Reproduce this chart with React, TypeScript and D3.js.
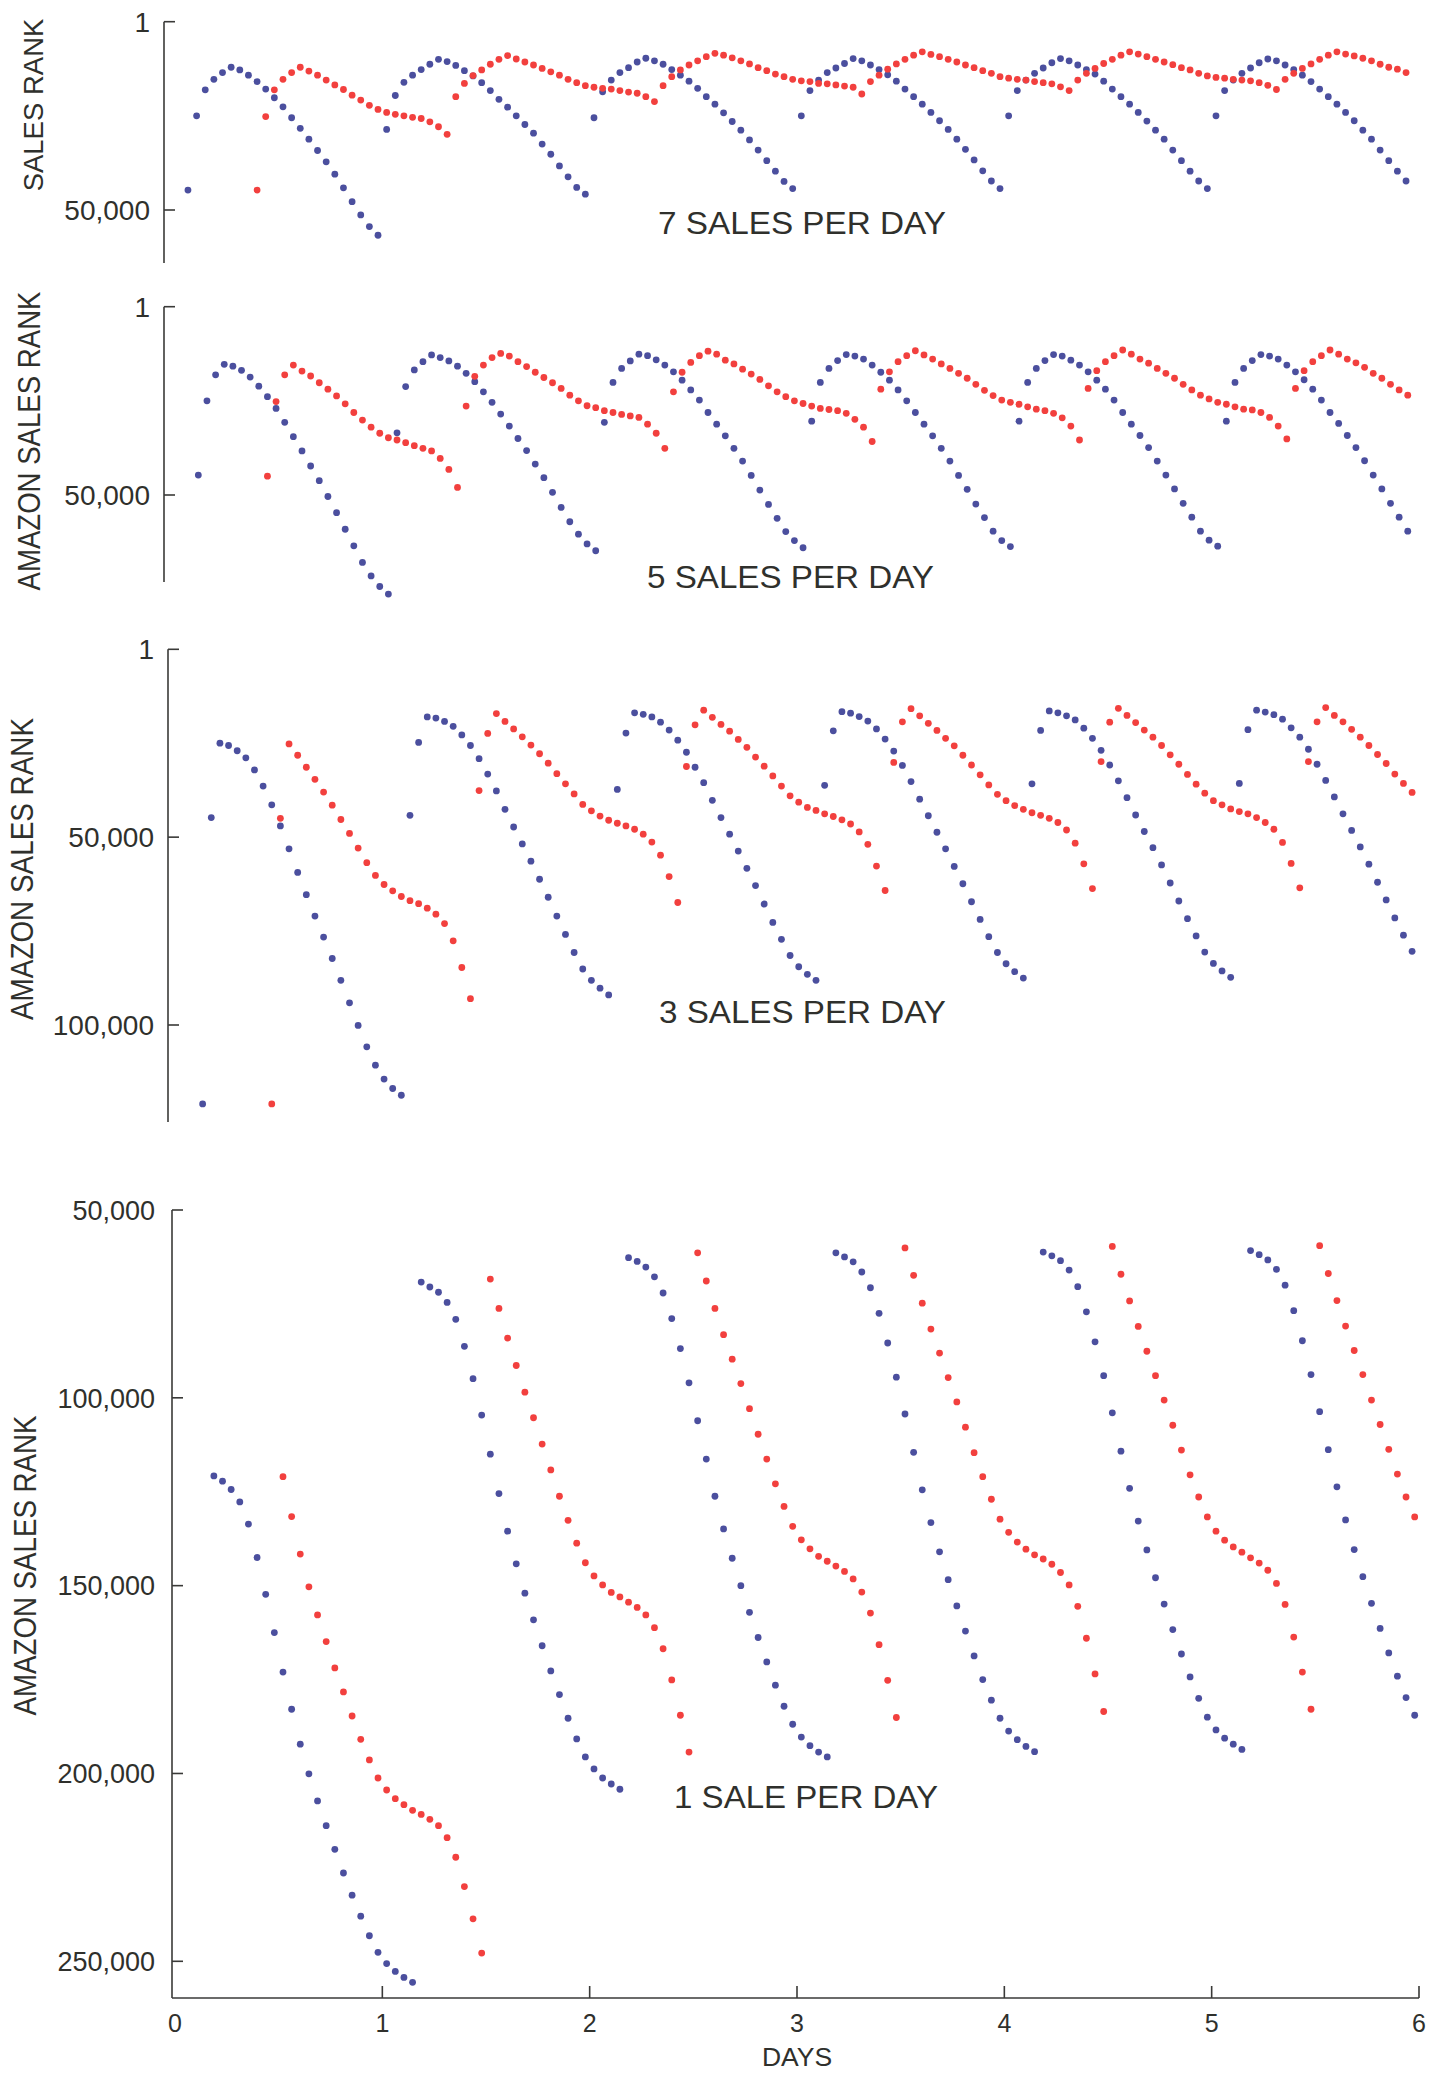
import React from "react";
import * as d3 from "d3";

// ---------- DATA ----------
const dayTicks = [0, 1, 2, 3, 4, 5, 6];
const panelTitles = ["7 SALES PER DAY", "5 SALES PER DAY", "3 SALES PER DAY", "1 SALE PER DAY"];
const panelAxisLabels = ["SALES RANK", "AMAZON SALES RANK", "AMAZON SALES RANK", "AMAZON SALES RANK"];
const rankTicks7 = [1, 50000];
const rankTicks5 = [1, 50000];
const rankTicks3 = [1, 50000, 100000];
const rankTicks1 = [50000, 100000, 150000, 200000, 250000];

// first hour of each hourly series (blue = first book, red = second book)
const blueStartHour = [1.5, 2.7, 3.2, 4.5];
const redStartHour = [9.5, 10.7, 11.2, 12.5];

// hourly sales rank, in thousands
const blue7 = [
  44.7, 25.0, 18.1, 15.3, 13.5, 12.1, 12.8, 14.2, 15.9, 17.9, 20.2, 22.6, 25.5, 28.3, 31.2, 34.2, 37.2, 40.5, 44.1, 47.8, 51.3, 54.4, 56.7,
  28.6, 19.6, 16.1, 14.2, 12.7, 11.3, 10.0, 10.6, 11.6, 13.0, 14.4, 16.2, 18.3, 20.6, 22.7, 25.0, 27.3, 29.6, 32.5, 35.2, 38.3, 41.2, 44.0, 45.8,
  25.5, 18.6, 15.5, 13.5, 12.2, 10.7, 9.7, 10.4, 11.3, 12.7, 14.2, 15.8, 17.7, 19.9, 21.9, 24.2, 26.5, 28.8, 31.4, 34.1, 36.9, 39.7, 42.4, 44.3,
  25.0, 18.3, 15.5, 13.5, 12.3, 11.1, 9.8, 10.4, 11.5, 12.7, 14.1, 15.8, 17.9, 19.9, 21.9, 24.1, 26.3, 28.6, 31.2, 33.9, 36.7, 39.6, 42.3, 44.3,
  25.0, 18.3, 15.5, 13.7, 12.3, 10.9, 9.8, 10.4, 11.5, 12.7, 13.9, 15.8, 17.9, 19.9, 21.9, 24.1, 26.4, 28.8, 31.2, 34.1, 36.9, 39.7, 42.3, 44.3,
  25.0, 18.3, 15.5, 13.7, 12.3, 10.9, 9.9, 10.4, 11.5, 12.7, 14.2, 15.9, 17.9, 19.9, 21.9, 24.1, 26.3, 28.8, 31.2, 34.1, 36.9, 39.7, 42.3,
];
const red7 = [
  44.7, 25.2, 18.1, 15.3, 13.5, 12.1, 13.1, 14.2, 15.5, 16.8, 18.0, 19.5, 20.8, 22.2, 23.3, 24.1, 24.6, 25.0, 25.4, 25.7, 26.6, 27.9, 29.9,
  19.9, 16.4, 14.3, 12.8, 11.3, 10.0, 9.0, 9.9, 10.7, 11.5, 12.4, 13.3, 14.2, 15.3, 16.2, 17.0, 17.4, 17.7, 17.9, 18.3, 18.7, 19.0, 19.9, 21.2,
  17.0, 14.6, 12.8, 11.5, 10.4, 9.3, 8.4, 8.9, 9.6, 10.4, 11.2, 12.2, 13.0, 13.9, 14.6, 15.3, 15.7, 15.9, 16.4, 16.5, 16.8, 17.1, 17.4, 19.2,
  15.9, 14.2, 12.6, 11.2, 10.0, 8.9, 8.0, 8.7, 9.3, 10.0, 10.7, 11.5, 12.2, 13.0, 13.7, 14.6, 15.0, 15.3, 15.5, 15.9, 16.2, 16.5, 17.3, 18.3,
  15.5, 13.7, 12.4, 11.1, 10.0, 8.9, 8.0, 8.6, 9.3, 10.0, 10.7, 11.4, 12.2, 12.8, 13.7, 14.4, 14.8, 15.0, 15.3, 15.5, 15.7, 16.2, 16.9, 18.0,
  15.3, 13.7, 12.4, 11.2, 10.0, 8.9, 8.0, 8.6, 9.1, 9.7, 10.4, 11.3, 12.1, 12.6, 13.5,
];
const blue5 = [
  44.7, 25.0, 18.1, 15.3, 15.8, 16.9, 18.7, 21.1, 23.9, 27.0, 30.7, 34.5, 38.3, 42.3, 46.2, 50.4, 54.7, 59.1, 63.5, 67.9, 71.5, 74.3, 76.3,
  33.5, 21.2, 16.8, 14.6, 12.8, 13.5, 14.4, 15.8, 17.7, 19.9, 22.6, 25.4, 28.5, 31.7, 35.0, 38.2, 41.8, 45.4, 49.3, 53.3, 57.1, 60.4, 63.0, 64.8,
  30.7, 20.1, 16.4, 14.4, 12.6, 13.0, 14.1, 15.5, 17.3, 19.5, 22.1, 24.8, 28.1, 31.2, 34.3, 37.6, 41.0, 44.8, 48.7, 52.5, 56.2, 59.7, 62.1, 64.0,
  30.4, 20.1, 16.4, 14.3, 12.7, 13.1, 13.9, 15.5, 17.4, 19.5, 22.1, 25.0, 28.1, 31.2, 34.3, 37.6, 41.0, 44.8, 48.5, 52.4, 56.0, 59.6, 62.1, 63.7,
  30.4, 20.1, 16.4, 14.3, 12.7, 13.1, 14.2, 15.5, 17.3, 19.5, 21.9, 24.8, 28.1, 31.2, 34.2, 37.4, 41.0, 44.7, 48.4, 52.2, 55.9, 59.6, 62.0, 63.6,
  30.4, 20.1, 16.4, 14.3, 12.7, 13.1, 13.9, 15.5, 17.3, 19.4, 21.9, 24.8, 28.1, 31.0, 34.2, 37.4, 40.9, 44.7, 48.4, 52.2, 55.9, 59.6,
];
const red5 = [
  45.0, 25.2, 18.1, 15.5, 17.1, 18.4, 20.2, 21.9, 23.7, 25.8, 28.1, 30.1, 32.0, 33.6, 34.8, 35.4, 36.1, 36.9, 37.6, 38.3, 40.3, 43.2, 48.0,
  26.4, 18.5, 15.5, 13.5, 12.4, 13.1, 14.6, 15.9, 17.4, 18.8, 20.2, 21.7, 23.5, 25.0, 26.3, 26.8, 27.6, 28.1, 28.6, 29.0, 29.4, 31.2, 33.6, 37.6,
  22.6, 17.4, 14.8, 13.0, 11.8, 12.6, 14.2, 15.2, 16.6, 17.9, 19.3, 21.0, 22.6, 23.9, 25.0, 25.7, 26.4, 27.0, 27.3, 27.6, 28.3, 29.9, 32.0, 35.8,
  21.9, 17.3, 14.6, 13.0, 11.7, 12.8, 13.9, 15.2, 16.4, 17.7, 19.0, 20.6, 22.2, 23.6, 24.8, 25.4, 25.9, 26.6, 27.2, 27.6, 28.3, 29.5, 31.7, 35.4,
  21.7, 17.0, 14.6, 13.0, 11.5, 12.6, 13.9, 15.0, 16.4, 17.7, 19.0, 20.6, 22.1, 23.5, 24.5, 25.4, 25.9, 26.6, 27.2, 27.4, 28.1, 29.4, 31.7, 35.1,
  21.7, 17.0, 14.6, 13.0, 11.5, 12.6, 13.9, 14.9, 16.1, 17.7, 19.0, 20.6, 22.1, 23.5,
];
const blue3 = [
  121.0, 44.8, 25.0, 25.6, 27.0, 28.9, 32.1, 36.4, 41.4, 47.0, 53.1, 59.4, 65.3, 71.0, 76.6, 82.3, 88.1, 94.1, 100.1, 105.8, 110.7, 114.4, 116.9, 118.7,
  44.2, 24.8, 18.0, 18.3, 19.2, 20.5, 22.8, 25.6, 29.1, 33.2, 37.7, 42.6, 47.3, 51.8, 56.4, 61.2, 66.0, 71.0, 75.9, 80.7, 85.1, 88.1, 90.2, 92.0,
  37.3, 22.3, 16.9, 17.3, 18.0, 19.4, 21.5, 24.2, 27.4, 31.4, 35.5, 40.2, 44.8, 49.2, 53.7, 58.3, 62.9, 67.8, 72.7, 77.2, 81.5, 84.5, 86.5, 88.1,
  36.2, 21.7, 16.6, 17.0, 17.9, 19.1, 21.2, 23.9, 27.1, 30.9, 35.2, 39.9, 44.3, 48.7, 53.1, 57.8, 62.4, 67.2, 71.9, 76.5, 80.7, 83.7, 85.8, 87.5,
  35.8, 21.6, 16.4, 16.9, 17.7, 18.8, 21.0, 23.7, 26.9, 30.8, 35.0, 39.5, 44.1, 48.5, 52.8, 57.4, 62.2, 67.0, 71.7, 76.3, 80.6, 83.6, 85.6, 87.3,
  35.7, 21.4, 16.2, 16.7, 17.4, 18.6, 20.9, 23.4, 26.6, 30.6, 34.9, 39.3, 43.8, 48.2, 52.6, 57.2, 62.0, 66.7, 71.5, 76.1, 80.4,
];
const red3 = [
  121.0, 45.0, 25.2, 28.2, 31.4, 34.6, 38.0, 41.5, 45.3, 49.0, 52.9, 56.8, 60.2, 62.6, 64.3, 65.8, 66.9, 67.7, 68.9, 70.5, 73.0, 77.6, 84.7, 93.0,
  37.6, 22.4, 17.1, 19.2, 21.2, 23.3, 25.5, 27.8, 30.3, 33.1, 35.8, 38.5, 41.3, 43.0, 44.4, 45.5, 46.3, 47.0, 47.9, 49.2, 51.3, 54.8, 60.5, 67.4,
  31.2, 20.1, 16.2, 18.1, 20.0, 21.8, 24.0, 26.1, 28.7, 31.1, 33.7, 36.4, 39.0, 40.7, 42.1, 42.9, 43.8, 44.5, 45.4, 46.5, 48.6, 51.9, 57.7, 64.2,
  30.1, 19.3, 15.8, 17.7, 19.7, 21.6, 23.7, 25.7, 28.2, 30.8, 33.4, 36.1, 38.6, 40.3, 41.6, 42.6, 43.5, 44.2, 45.0, 46.1, 48.1, 51.6, 57.1, 63.7,
  29.9, 19.4, 15.7, 17.6, 19.5, 21.5, 23.4, 25.6, 28.1, 30.6, 33.3, 35.9, 38.3, 40.3, 41.4, 42.5, 43.2, 43.8, 44.8, 46.1, 47.9, 51.4, 57.0, 63.5,
  29.9, 19.3, 15.5, 17.6, 19.3, 21.3, 23.4, 25.6, 28.0, 30.4, 33.2, 35.7, 38.1,
];
const blue1 = [
  120.8, 122.2, 124.4, 127.7, 133.6, 142.5, 152.3, 162.5, 173.0, 182.9, 192.2, 200.1, 207.3, 213.9, 220.2, 226.5, 232.4, 238.0, 243.2, 247.6, 250.6, 252.7, 254.3, 255.6,
  69.2, 70.5, 71.9, 74.6, 79.1, 86.3, 94.9, 104.6, 115.0, 125.5, 135.5, 144.2, 152.0, 159.1, 166.0, 172.7, 179.0, 185.3, 190.8, 195.6, 198.8, 201.2, 202.8, 204.2,
  62.7, 63.7, 65.2, 67.8, 72.1, 78.9, 86.9, 96.0, 106.1, 116.3, 126.2, 134.9, 142.7, 150.0, 157.1, 163.8, 170.3, 176.5, 182.1, 186.9, 190.3, 192.6, 194.3, 195.6,
  61.4, 62.5, 63.8, 66.5, 70.7, 77.5, 85.4, 94.5, 104.3, 114.5, 124.5, 133.2, 141.0, 148.4, 155.4, 162.1, 168.7, 175.0, 180.5, 185.3, 188.7, 191.0, 192.8, 194.2,
  61.2, 62.2, 63.5, 66.0, 70.4, 77.1, 85.1, 94.1, 104.0, 114.2, 124.1, 132.8, 140.5, 147.9, 154.9, 161.7, 168.2, 174.3, 180.0, 185.0, 188.4, 190.6, 192.2, 193.6,
  60.8, 61.9, 63.3, 65.8, 70.0, 76.8, 84.8, 93.8, 103.7, 113.8, 123.7, 132.5, 140.4, 147.6, 154.7, 161.4, 167.9, 174.1, 179.8, 184.5,
];
const red1 = [
  121.0, 131.6, 141.6, 150.3, 157.8, 164.9, 171.9, 178.3, 184.7, 190.9, 196.4, 201.2, 204.4, 206.7, 208.3, 209.8, 210.9, 212.2, 213.9, 217.1, 222.3, 230.1, 238.7, 247.8,
  68.4, 76.2, 84.1, 91.4, 98.5, 105.3, 112.3, 119.2, 126.2, 132.6, 138.7, 143.9, 147.4, 149.8, 151.8, 153.0, 154.4, 155.8, 157.8, 161.2, 166.8, 175.1, 184.5, 194.3,
  61.4, 68.9, 76.2, 83.2, 89.7, 96.2, 102.9, 109.7, 116.3, 122.9, 128.9, 134.2, 137.8, 140.2, 142.2, 143.5, 144.8, 146.2, 148.2, 151.7, 157.3, 165.7, 175.2, 185.1,
  60.1, 67.4, 74.8, 81.7, 88.1, 94.6, 101.1, 107.8, 114.6, 121.0, 127.0, 132.3, 135.8, 138.4, 140.3, 141.8, 142.9, 144.3, 146.5, 149.8, 155.5, 164.0, 173.5, 183.5,
  59.7, 67.1, 74.2, 81.0, 87.6, 94.1, 100.6, 107.3, 113.9, 120.5, 126.4, 131.7, 135.5, 137.9, 139.7, 141.1, 142.6, 144.0, 145.9, 149.4, 155.0, 163.7, 173.0, 182.9,
  59.5, 66.9, 74.1, 80.9, 87.4, 93.8, 100.6, 107.1, 113.7, 120.3, 126.4, 131.7,
];

const blueSeries = [blue7, blue5, blue3, blue1];
const redSeries = [red7, red5, red3, red1];
const rankTickSets = [rankTicks7, rankTicks5, rankTicks3, rankTicks1];

// ---------- LAYOUT / STYLE ----------
const W = 1442;
const H = 2075;
const FONT = "'Liberation Sans', Arial, Helvetica, sans-serif";
const TEXT = "#2f302c";
const AXIS = "#3a3a38";
const BLUE = "#4b4f9e";
const RED = "#f2403e";
const DOT_R = 3.4;

const panelLayout = [
  { domain: [1, 50000], range: [21.7, 210], axisX: 164, axisTop: 21.7, axisBottom: 263, tickRight: 150, tickSize: 28,
    labelX: 43, labelCy: 105, labelSize: 27.5, labelLen: 0, titleX: 658, titleLen: 288, titleY: 234 },
  { domain: [1, 50000], range: [306.7, 495], axisX: 164, axisTop: 306.7, axisBottom: 582, tickRight: 150, tickSize: 28,
    labelX: 40, labelCy: 441, labelSize: 31, labelLen: 299, titleX: 647, titleLen: 287, titleY: 588 },
  { domain: [1, 100000], range: [649.3, 1025], axisX: 168, axisTop: 649.3, axisBottom: 1122, tickRight: 154, tickSize: 28,
    labelX: 33, labelCy: 869, labelSize: 31, labelLen: 302, titleX: 659, titleLen: 287, titleY: 1023 },
  { domain: [50000, 250000], range: [1210, 1961.3], axisX: 172, axisTop: 1210, axisBottom: 1998, tickRight: 155, tickSize: 27,
    labelX: 36, labelCy: 1565.5, labelSize: 31, labelLen: 300, titleX: 674, titleLen: 264, titleY: 1808 },
];

const xAxisY = 1998;

export default function App() {
  const x = d3.scaleLinear().domain([0, 6]).range([175, 1419]);
  const fmt = d3.format(",");

  return (
    <svg
      width={W}
      height={H}
      viewBox={`0 0 ${W} ${H}`}
      style={{ position: "absolute", left: 0, top: 0, background: "#fff" }}
      fontFamily={FONT}
    >
      <rect x={0} y={0} width={W} height={H} fill="#ffffff" />
      {panelLayout.map((p, pi) => {
        const y = d3.scaleLinear().domain(p.domain).range(p.range);
        const blue = blueSeries[pi].map((k, i) => ({ day: (blueStartHour[pi] + i) / 24, rank: k * 1000 }));
        const red = redSeries[pi].map((k, i) => ({ day: (redStartHour[pi] + i) / 24, rank: k * 1000 }));
        const labelProps = p.labelLen > 0 ? { textLength: p.labelLen, lengthAdjust: "spacingAndGlyphs" } : {};
        return (
          <g key={pi}>
            <line x1={p.axisX} x2={p.axisX} y1={p.axisTop} y2={p.axisBottom} stroke={AXIS} strokeWidth={1.6} />
            {rankTickSets[pi].map((t) => (
              <g key={t}>
                <line x1={p.axisX} x2={p.axisX + 11} y1={y(t)} y2={y(t)} stroke={AXIS} strokeWidth={1.6} />
                <text x={p.tickRight} y={y(t)} dy="0.36em" textAnchor="end" fontSize={p.tickSize} fill={TEXT}>
                  {fmt(t)}
                </text>
              </g>
            ))}
            <text
              transform={`translate(${p.labelX},${p.labelCy}) rotate(-90)`}
              textAnchor="middle"
              fontSize={p.labelSize}
              fill={TEXT}
              {...labelProps}
            >
              {panelAxisLabels[pi]}
            </text>
            <text
              x={p.titleX}
              y={p.titleY}
              fontSize={32}
              fill={TEXT}
              textLength={p.titleLen}
              lengthAdjust="spacingAndGlyphs"
            >
              {panelTitles[pi]}
            </text>
            {blue.map((d, i) => (
              <circle key={"b" + i} cx={x(d.day)} cy={y(d.rank)} r={DOT_R} fill={BLUE} />
            ))}
            {red.map((d, i) => (
              <circle key={"r" + i} cx={x(d.day)} cy={y(d.rank)} r={DOT_R} fill={RED} />
            ))}
          </g>
        );
      })}
      <line x1={panelLayout[3].axisX} x2={x(6)} y1={xAxisY} y2={xAxisY} stroke={AXIS} strokeWidth={1.6} />
      {dayTicks.map((d) => (
        <g key={d}>
          {d > 0 && (
            <line x1={x(d)} x2={x(d)} y1={xAxisY} y2={xAxisY - 12} stroke={AXIS} strokeWidth={1.6} />
          )}
          <text x={x(d)} y={2032} textAnchor="middle" fontSize={25} fill={TEXT}>
            {d}
          </text>
        </g>
      ))}
      <text x={x(3)} y={2066} textAnchor="middle" fontSize={26.5} fill={TEXT}>
        DAYS
      </text>
    </svg>
  );
}
